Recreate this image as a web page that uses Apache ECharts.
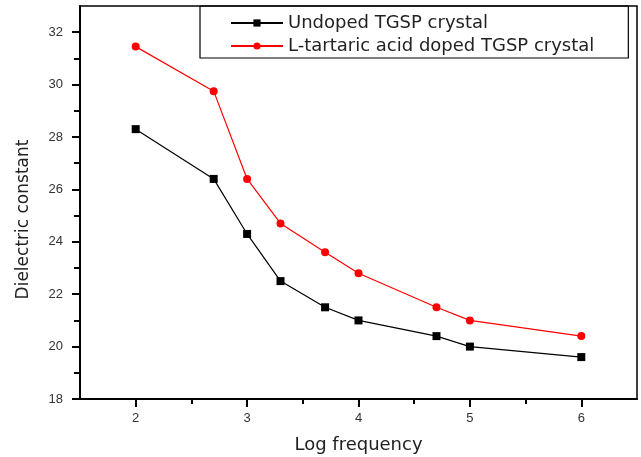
<!DOCTYPE html>
<html>
<head>
<meta charset="utf-8">
<style>html,body{margin:0;padding:0;background:#fff;}#c{width:641px;height:457px;}</style>
<script src="https://cdn.jsdelivr.net/npm/echarts@6/dist/echarts.min.js"></script>
</head>
<body>
<div id="c"></div>
<script>
const logFreq = [2, 2.7, 3, 3.3, 3.7, 4, 4.7, 5, 6];
const undoped = [28.3, 26.4, 24.3, 22.5, 21.5, 21.0, 20.4, 20.0, 19.6];
const doped = [31.45, 29.75, 26.4, 24.7, 23.6, 22.8, 21.5, 21.0, 20.4];
const xMajor = [2, 3, 4, 5, 6];
const xMinor = [2.5, 3.5, 4.5, 5.5];
const yMajor = [18, 20, 22, 24, 26, 28, 30, 32];
const yMinor = [19, 21, 23, 25, 27, 29, 31];
const seriesNames = ['Undoped TGSP crystal', 'L-tartaric acid doped TGSP crystal'];

const pair = (xs, ys) => xs.map((x, i) => [x, ys[i]]);
const FONT = 'Liberation Sans';
const chart = echarts.init(document.getElementById('c'), null, {renderer: 'canvas'});
const axisLine = {show: true, onZero: false, lineStyle: {color: '#000', width: 2}};
chart.setOption({
  animation: false,
  backgroundColor: '#fff',
  grid: {left: 80, right: 4, top: 6, bottom: 58, outerBoundsMode: 'none', containLabel: false,
         show: true, borderColor: '#000', borderWidth: 1.5, backgroundColor: 'transparent'},
  legend: {
    orient: 'vertical', left: 200, top: 6,
    padding: [8, 34, 3, 30],
    itemWidth: 52, itemHeight: 9, itemGap: 5,
    borderColor: '#000', borderWidth: 1.2,
    textStyle: {fontFamily: 'DejaVu Sans', fontSize: 18, color: '#222'},
    data: seriesNames
  },
  xAxis: [{
    type: 'value', min: 1.5, max: 6.5, position: 'bottom',
    axisLine: axisLine,
    axisTick: {show: true, length: 8, lineStyle: {color: '#000', width: 2}, customValues: xMajor},
    axisLabel: {customValues: xMajor, margin: 13, fontFamily: FONT, fontSize: 13, color: '#333'},
    splitLine: {show: false},
    name: 'Log frequency', nameLocation: 'middle', nameGap: 37,
    nameTextStyle: {fontFamily: 'DejaVu Sans', fontSize: 18, color: '#222'}
  }, {
    type: 'value', min: 1.5, max: 6.5, position: 'bottom',
    axisLine: {show: false},
    axisTick: {show: true, length: 5, lineStyle: {color: '#000', width: 2}, customValues: xMinor},
    axisLabel: {show: false}, splitLine: {show: false}
  }],
  yAxis: [{
    type: 'value', min: 18, max: 33, position: 'left',
    axisLine: axisLine,
    axisTick: {show: true, length: 8, lineStyle: {color: '#000', width: 2}, customValues: yMajor},
    axisLabel: {customValues: yMajor, margin: 17, fontFamily: FONT, fontSize: 13, color: '#333'},
    splitLine: {show: false},
    name: 'Dielectric constant', nameLocation: 'middle', nameGap: 48,
    nameTextStyle: {fontFamily: 'DejaVu Sans', fontSize: 17, color: '#222', padding: [0, 34, 0, 0]}
  }, {
    type: 'value', min: 18, max: 33, position: 'left',
    axisLine: {show: false},
    axisTick: {show: true, length: 6, lineStyle: {color: '#000', width: 2}, customValues: yMinor},
    axisLabel: {show: false}, splitLine: {show: false}
  }],
  series: [{
    name: seriesNames[0], type: 'line', xAxisIndex: 0, yAxisIndex: 0,
    data: pair(logFreq, undoped),
    symbol: 'rect', symbolSize: 8,
    itemStyle: {color: '#000'}, lineStyle: {color: '#000', width: 1.2}
  }, {
    name: seriesNames[1], type: 'line', xAxisIndex: 0, yAxisIndex: 0,
    data: pair(logFreq, doped),
    symbol: 'circle', symbolSize: 8,
    itemStyle: {color: '#ff0000'}, lineStyle: {color: '#ff0000', width: 1.2}
  }]
});
</script>
</body>
</html>
